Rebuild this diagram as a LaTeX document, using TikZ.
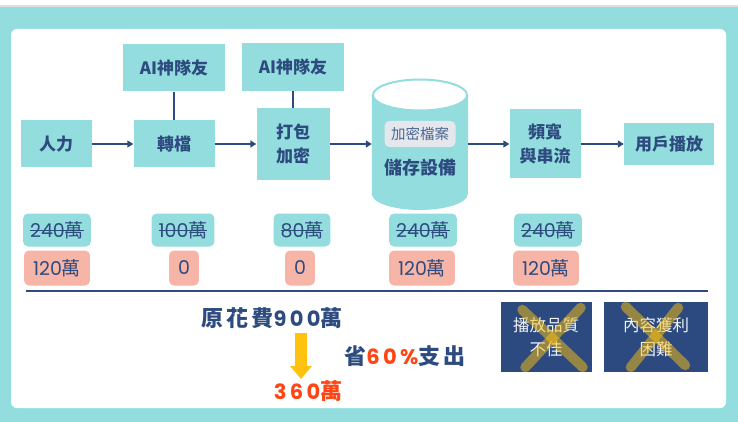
\documentclass[tikz,border=0pt]{standalone}
\usepackage{fontspec}
\newfontfamily\cjk{Noto Sans CJK TC}
\newfontfamily\lat{Poppins}
\usetikzlibrary{calc,arrows.meta}

\definecolor{tealbg}{HTML}{93DDDF}
\definecolor{navytxt}{HTML}{2D4B7E}
\definecolor{pinkbg}{HTML}{F7B5A8}
\definecolor{greybox}{HTML}{E4E7EC}
\definecolor{redtxt}{HTML}{FF4514}
\definecolor{gold}{HTML}{FFC20E}
\definecolor{darkbox}{HTML}{2C4A80}

\newcommand\strike[1]{\setbox0\hbox{#1}\rlap{\rule[0.33em]{\wd0}{0.9pt}}\box0}
\newcommand\dig[1]{{\lat #1}}
\newcommand\bigdig[1]{{\lat\bfseries\fontsize{21}{22}\selectfont\addfontfeatures{LetterSpace=16}#1}}

\begin{document}
\begin{tikzpicture}[x=1pt,y=-1pt]
\tikzstyle{stage}=[fill=tealbg,text=navytxt,font=\cjk\bfseries\fontsize{17}{24}\selectfont,align=center,inner sep=0pt]
\tikzstyle{old}=[fill=tealbg,text=navytxt,rounded corners=5pt,font=\cjk\fontsize{19}{20}\selectfont,inner xsep=7pt,inner ysep=0pt,minimum height=33pt]
\tikzstyle{new}=[old,fill=pinkbg,inner xsep=9pt,minimum height=35pt]
\tikzstyle{flow}=[navytxt,line width=1.8pt,-{Triangle[length=6pt,width=7pt]}]
\tikzstyle{link}=[navytxt,line width=1.8pt]
\tikzstyle{sum}=[text=navytxt,inner sep=0pt,font=\cjk\bfseries\fontsize{22}{24}\selectfont\addfontfeatures{LetterSpace=14}]
\tikzstyle{issue}=[fill=darkbox,text=white!94!darkbox,font=\cjk\fontsize{16.5}{24}\selectfont,align=center,minimum height=70pt,inner sep=0pt]
\tikzstyle{cross}=[gold,opacity=0.5,line width=10pt,line cap=round]

% frame
\useasboundingbox (0,0) rectangle (738,422);
\fill [white] (0,0) rectangle (738,422);
\fill [tealbg] (0,7) rectangle (738,422);
\fill [gray!25] (0,5) rectangle (738,7);
\fill [white,rounded corners=6pt] (11,29) rectangle (726,408);

% pipeline
\node (human) [stage,minimum width=71pt,minimum height=47pt] at (56,144) {人力};
\node (ai1) [stage,minimum width=102pt,minimum height=47pt] at (174,68) {AI神隊友};
\node (conv) [stage,minimum width=81pt,minimum height=47pt] at (174,144) {轉檔};
\node (ai2) [stage,minimum width=102pt,minimum height=48pt] at (293,67) {AI神隊友};
\node (pack) [stage,minimum width=73pt,minimum height=72pt] at (293,144) {打包\\加密};

\node (store) [minimum width=96pt,minimum height=130pt,inner sep=0pt] at (420,144) {};
\fill [tealbg] (store.west |- 0,95) -- (store.west |- 0,194) arc[start angle=180,end angle=0,x radius=48,y radius=16] -- (store.east |- 0,95) -- cycle;
\draw [tealbg,line width=2pt,fill=white] (store.center |- 0,95) ellipse [x radius=47,y radius=15.5];
\node (enc) [fill=greybox,text=navytxt!85,rounded corners=5pt,font=\cjk\fontsize{14.5}{16}\selectfont,minimum width=71pt,minimum height=26pt,inner sep=0pt] at (420,134) {加密檔案};
\node (storelbl) [text=navytxt,font=\cjk\bfseries\fontsize{18}{20}\selectfont,inner sep=0pt] at (420,168) {儲存設備};

\node (band) [stage,minimum width=71pt,minimum height=69pt] at (545,144) {頻寬\\與串流};
\node (play) [stage,minimum width=90pt,minimum height=42pt] at (669,144) {用戶播放};

\draw [flow] (human) -- (conv);
\draw [flow] (conv) -- (pack);
\draw [flow] (pack) -- (store);
\draw [flow] (store) -- (band);
\draw [flow] (band) -- (play);
\draw [link] (ai1) -- (conv);
\draw [link] (ai2) -- (pack);

% costs
\node (old1) [old] at (57,230) {\strike{\dig{240}萬}};
\node (new1) [new] at (57,268) {\dig{120}萬};
\node (old2) [old] at (183,230) {\strike{\dig{100}萬}};
\node (new2) [new] at (184,268) {\dig{0}};
\node (old3) [old] at (302,230) {\strike{\dig{80}萬}};
\node (new3) [new] at (300,268) {\dig{0}};
\node (old4) [old] at (423,230) {\strike{\dig{240}萬}};
\node (new4) [new] at (422,268) {\dig{120}萬};
\node (old5) [old] at (548,230) {\strike{\dig{240}萬}};
\node (new5) [new] at (546,268) {\dig{120}萬};

\draw [navytxt,line width=1.2pt] (26,291) -- (708,291);

% summary
\node (orig) [sum] at (272,318) {原花費\bigdig{900}萬};
\coordinate (dtop) at (301,333);
\coordinate (dbot) at (301,379);
\draw [gold,line width=12pt,-{Triangle[length=13pt,width=21pt]}] (dtop) -- (dbot);
\node (saved) [sum,text=redtxt] at (308,391) {\bigdig{360}萬};
\node (pct) [sum] at (405,356) {省\textcolor{redtxt}{\bigdig{60\%}}支出};

\node (issue1) [issue,minimum width=91pt] at (546,337) {播放品質\\不佳};
\node (issue2) [issue,minimum width=104pt] at (656,337) {內容獲利\\困難};
\draw [cross] ($(issue1.north west)+(22,8)$) -- ($(issue1.south east)+(-9,-5)$);
\draw [cross] ($(issue1.north east)+(-11,6)$) -- ($(issue1.south west)+(25,-5)$);
\draw [cross] ($(issue2.north west)+(22,5)$) -- ($(issue2.south east)+(-23,-7)$);
\draw [cross] ($(issue2.north east)+(-30,6)$) -- ($(issue2.south west)+(27,-5)$);
\end{tikzpicture}
\end{document}
